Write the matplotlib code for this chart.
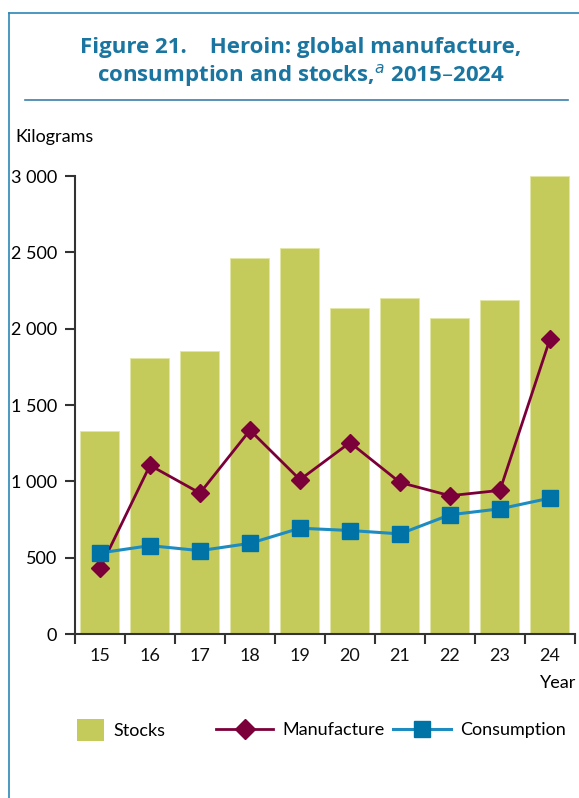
import numpy as np
import matplotlib
matplotlib.use("Agg")
import matplotlib.pyplot as plt
from matplotlib.lines import Line2D
from matplotlib.patches import Patch

# Data (kilograms)
years = ["15", "16", "17", "18", "19", "20", "21", "22", "23", "24"]
stocks = [1330, 1806, 1855, 2465, 2529, 2135, 2201, 2070, 2187, 3000]
manufacture = [430, 1105, 923, 1335, 1011, 1254, 993, 906, 941, 1932]
consumption = [531, 579, 546, 594, 693, 678, 656, 781, 820, 890]
yticks = [0, 500, 1000, 1500, 2000, 2500, 3000]
ytick_labels = ["0", "500", "1 000", "1 500", "2 000", "2 500", "3 000"]

bar_color = "#C5CB5A"
manu_color = "#7B0039"
cons_line = "#1E8CC0"
cons_marker = "#0073A6"
title_color = "#1A75A0"
axis_color = "#333333"

plt.rcParams["font.family"] = ["Lato", "DejaVu Sans"]
fs = 13

fig = plt.figure(figsize=(5.79, 7.98), dpi=100)
ax = fig.add_axes([0.1295, 0.2055, 0.8635, 0.5739])

x = np.arange(len(years))
ax.bar(x, stocks, width=0.78, color=bar_color, edgecolor="#E3E6A8", linewidth=0.6, zorder=1)
ax.plot(x, manufacture, color=manu_color, lw=2.0, marker="D", ms=9.5,
        mec=manu_color, mfc=manu_color, zorder=3)
ax.plot(x, consumption, color=cons_line, lw=2.2, marker="s", ms=12,
        mec=cons_marker, mfc=cons_marker, zorder=4)

ax.set_xlim(-0.5, len(years) - 0.5)
ax.set_ylim(0, 3000)
ax.set_yticks(yticks)
ax.set_yticklabels(ytick_labels, fontsize=fs)
ax.set_xticks(np.arange(-0.5, len(years), 1.0))
ax.set_xticklabels([])
ax.set_xticks(x, minor=True)
ax.set_xticklabels(years, minor=True, fontsize=fs)
ax.tick_params(axis="x", which="major", length=7, width=1.5, color=axis_color, direction="out")
ax.tick_params(axis="x", which="minor", length=0, pad=10, colors="#111111")
ax.tick_params(axis="y", length=7, width=1.5, color=axis_color, direction="out", pad=6)
for s in ["top", "right"]:
    ax.spines[s].set_visible(False)
for s in ["left", "bottom"]:
    ax.spines[s].set_color(axis_color)
    ax.spines[s].set_linewidth(1.5)

fig.text(15 / 579, 1 - 137 / 798, "Kilograms", fontsize=fs, va="center", ha="left")
fig.text(576 / 579, 1 - 683 / 798, "Year", fontsize=fs, va="center", ha="right")

# title
fig.text(0.52, 1 - 47 / 798, "Figure 21.    Heroin: global manufacture,",
         fontsize=16, fontweight="bold", color=title_color, ha="center", va="center",
         family=["Open Sans", "DejaVu Sans"])
fig.text(0.52, 1 - 76 / 798, r"consumption and stocks,$^{\it a}$ 2015–2024",
         fontsize=16, fontweight="bold", color=title_color, ha="center", va="center",
         family=["Open Sans", "DejaVu Sans"])

# frame lines
fig.add_artist(Line2D([9 / 579, 9 / 579], [0, 1 - 13 / 798], color="#2C86B8", lw=1.2))
fig.add_artist(Line2D([9 / 579, 1], [1 - 13 / 798, 1 - 13 / 798], color="#2C86B8", lw=1.2))
fig.add_artist(Line2D([25 / 579, 568 / 579], [1 - 100 / 798, 1 - 100 / 798], color="#3A7FA8", lw=1.2))

# legend: three separate entries placed like the reference
leg_y = 1 - 730 / 798
em = fs * 100 / 72
common = dict(loc="center left", frameon=False, fontsize=fs, borderpad=0,
              borderaxespad=0, handletextpad=0.5)
h_stock = Patch(facecolor=bar_color, edgecolor="none", label="Stocks")
h_manu = Line2D([], [], color=manu_color, lw=2.0, marker="D", ms=10, label="Manufacture")
h_cons = Line2D([], [], color=cons_line, lw=2.2, marker="s", ms=12,
                mfc=cons_marker, mec=cons_marker, label="Consumption")
l1 = fig.legend(handles=[h_stock], bbox_to_anchor=(77 / 579, leg_y),
                handlelength=27 / em, handleheight=27 / em, **common)
l2 = fig.legend(handles=[h_manu], bbox_to_anchor=(216 / 579, leg_y),
                handlelength=57 / em, **common)
l3 = fig.legend(handles=[h_cons], bbox_to_anchor=(393 / 579, leg_y),
                handlelength=58 / em, **common)

fig.savefig("out.png", dpi=100)
